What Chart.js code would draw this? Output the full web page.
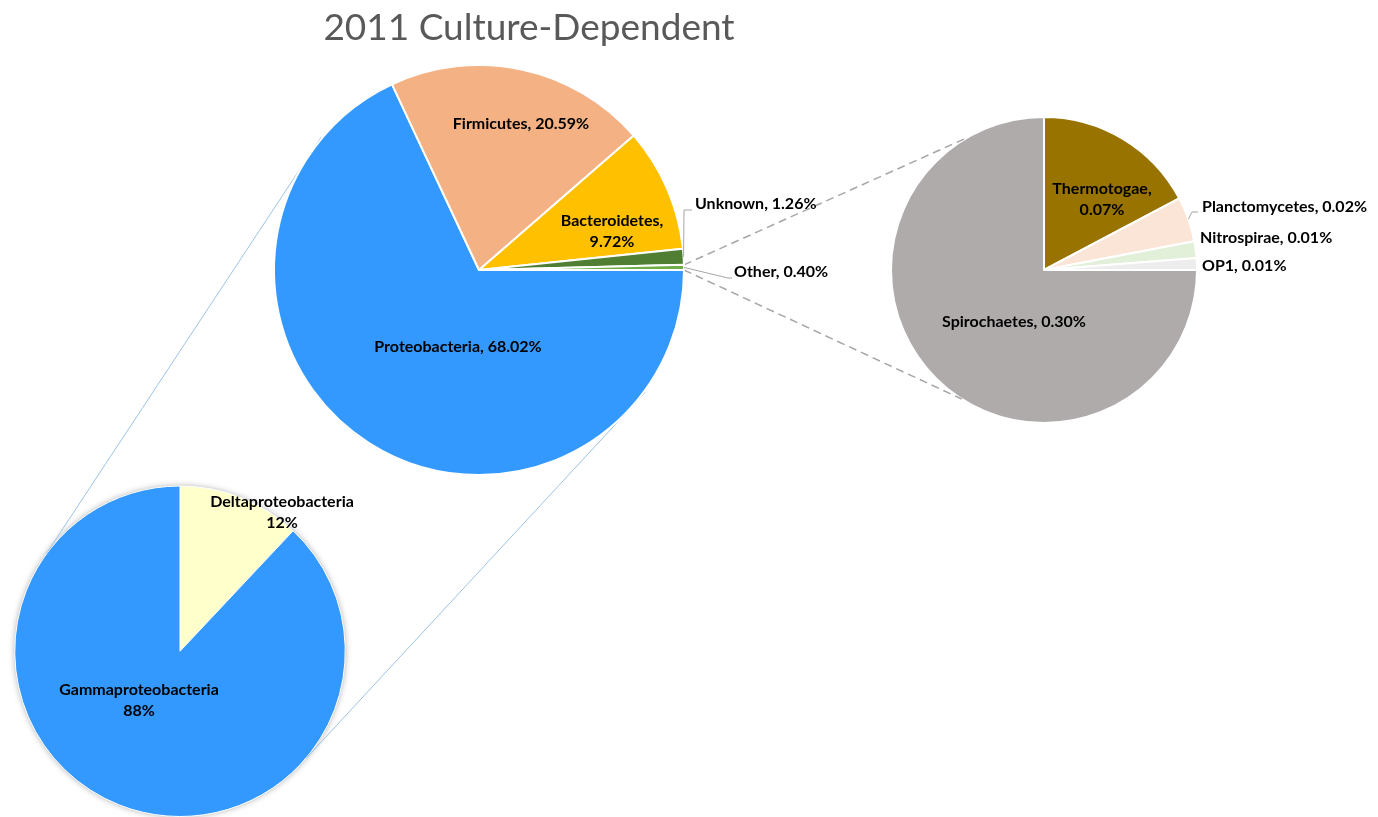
<!DOCTYPE html>
<html>
<head>
<meta charset="utf-8">
<script src="https://cdn.jsdelivr.net/npm/chart.js@4.4.1/dist/chart.umd.min.js"></script>
<style>
html, body { margin: 0; padding: 0; background: #fff; }
#wrap { position: relative; width: 1378px; height: 817px; overflow: hidden; }
#wrap canvas { position: absolute; left: 0; top: 0; }
</style>
</head>
<body>
<div id="wrap">
  <canvas id="protChart" width="1378" height="817"></canvas>
  <canvas id="otherChart" width="1378" height="817"></canvas>
  <canvas id="mainChart" width="1378" height="817"></canvas>
</div>
<script>
// main pie
var mainLabels = ['Proteobacteria', 'Firmicutes', 'Bacteroidetes', 'Unknown', 'Other'];
var mainValues = [68.02, 20.59, 9.72, 1.26, 0.40];
var mainText = ['Proteobacteria, 68.02%', 'Firmicutes, 20.59%', 'Bacteroidetes,\n9.72%', 'Unknown, 1.26%', 'Other, 0.40%'];
var mainColors = ['#3399FF', '#F4B183', '#FFC000', '#507E32', '#70AD47'];

// breakdown of "Other" (right pie)
var otherLabels = ['Spirochaetes', 'Thermotogae', 'Planctomycetes', 'Nitrospirae', 'OP1'];
var otherValues = [0.300, 0.069, 0.019, 0.007, 0.005];
var otherText = ['Spirochaetes, 0.30%', 'Thermotogae,\n0.07%', 'Planctomycetes, 0.02%', 'Nitrospirae, 0.01%', 'OP1, 0.01%'];
var otherColors = ['#AFABAB', '#997300', '#FBE5D6', '#E2F0D9', '#EDEDED'];

// breakdown of Proteobacteria (bottom pie)
var protLabels = ['Deltaproteobacteria', 'Gammaproteobacteria'];
var protValues = [12, 88];
var protText = ['Deltaproteobacteria\n12%', 'Gammaproteobacteria\n88%'];
var protColors = ['#FFFFCC', '#3399FF'];

var W = 1378, H = 817;
var labelFont = 'bold 16px Lato';

// padding so the pie sits at (cx, cy) with radius r
function padFor(cx, cy, r, bw) {
  var s = 2 * r + bw;
  return { left: cx - s / 2, top: cy - s / 2, right: W - (cx + s / 2), bottom: H - (cy + s / 2) };
}

// label placement relative to pie centre: [dx, dy, align, leader knee dx, knee dy, end dx]
var mainPlace = [[-21, 77, 'center'], [42, -146, 'center'], [133, -39, 'center'],
  [216, -66, 'left', 205, -60, 213], [255, 2, 'left', 249, 8, 253]];
var otherPlace = [[-30, 52, 'center'], [58, -71, 'center'], [158, -63, 'left', 148, -58, 154],
  [156, -32, 'left'], [158, -4, 'left']];
var protPlace = [[102, -139, 'center'], [-41, 49, 'center']];

function labelPlugin(texts, place) {
  return {
    id: 'sliceLabels',
    afterDatasetsDraw: function(chart) {
      var ctx = chart.ctx;
      var arcs = chart.getDatasetMeta(0).data;
      ctx.save();
      ctx.font = labelFont;
      ctx.fillStyle = '#000';
      ctx.textBaseline = 'middle';
      for (var i = 0; i < arcs.length; i++) {
        var a = arcs[i], p = place[i];
        var lx = a.x + p[0], ly = a.y + p[1];
        if (p.length > 3) {
          var mid = (a.startAngle + a.endAngle) / 2;
          ctx.strokeStyle = '#A6A6A6';
          ctx.lineWidth = 1;
          ctx.beginPath();
          ctx.moveTo(a.x + a.outerRadius * Math.cos(mid), a.y + a.outerRadius * Math.sin(mid));
          ctx.lineTo(a.x + p[3], a.y + p[4]);
          ctx.lineTo(a.x + p[5], a.y + p[4]);
          ctx.stroke();
        }
        ctx.textAlign = p[2];
        var lines = texts[i].split('\n');
        var y0 = ly - (lines.length - 1) * 10.5;
        for (var j = 0; j < lines.length; j++) {
          ctx.fillText(lines[j], lx, y0 + j * 21);
        }
      }
      ctx.restore();
    }
  };
}

var common = {
  responsive: false,
  animation: false,
  events: [],
  plugins: { legend: { display: false }, tooltip: { enabled: false } }
};

var protChart = new Chart(document.getElementById('protChart'), {
  type: 'pie',
  data: {
    labels: protLabels,
    datasets: [{ data: protValues, backgroundColor: protColors, borderColor: '#fff', borderWidth: 1 }]
  },
  options: Object.assign({}, common, { rotation: 0, layout: { padding: padFor(180, 652, 166, 1) } }),
  plugins: [{
    id: 'softEdge',
    beforeDatasetsDraw: function(chart) {
      var a = chart.getDatasetMeta(0).data[0];
      var ctx = chart.ctx;
      ctx.save();
      ctx.shadowColor = 'rgba(0,0,0,0.45)';
      ctx.shadowBlur = 7;
      ctx.fillStyle = '#3399FF';
      ctx.beginPath();
      ctx.arc(a.x, a.y, a.outerRadius - 1, 0, Math.PI * 2);
      ctx.fill();
      ctx.restore();
    }
  }, labelPlugin(protText, protPlace)]
});

var otherChart = new Chart(document.getElementById('otherChart'), {
  type: 'pie',
  data: {
    labels: otherLabels,
    datasets: [{ data: otherValues, backgroundColor: otherColors, borderColor: '#fff', borderWidth: 2 }]
  },
  options: Object.assign({}, common, { rotation: 90, layout: { padding: padFor(1044, 270, 153, 2) } }),
  plugins: [labelPlugin(otherText, otherPlace)]
});

// connector lines between the pies
var connectors = {
  id: 'connectors',
  beforeDatasetsDraw: function(chart) {
    var ctx = chart.ctx;
    var m = chart.getDatasetMeta(0).data;
    var big = m[0];
    var p = protChart.getDatasetMeta(0).data[0];
    var o = otherChart.getDatasetMeta(0).data[0];
    ctx.save();
    // outer tangents to the Proteobacteria pie, running a little past the big pie
    var dx = p.x - big.x, dy = p.y - big.y, D = Math.sqrt(dx * dx + dy * dy);
    var base = Math.atan2(dy, dx);
    var off = Math.acos((big.outerRadius - p.outerRadius) / D);
    ctx.strokeStyle = '#9DC3E6';
    ctx.lineWidth = 1;
    [base + off, base - off].forEach(function(t) {
      var x1 = big.x + big.outerRadius * Math.cos(t), y1 = big.y + big.outerRadius * Math.sin(t);
      var x2 = p.x + p.outerRadius * Math.cos(t), y2 = p.y + p.outerRadius * Math.sin(t);
      var len = Math.sqrt((x2 - x1) * (x2 - x1) + (y2 - y1) * (y2 - y1));
      var ux = (x2 - x1) / len, uy = (y2 - y1) / len;
      ctx.beginPath();
      ctx.moveTo(x1 - ux * 24, y1 - uy * 24);
      ctx.lineTo(x2 - ux * 8, y2 - uy * 8);
      ctx.stroke();
    });
    // dashed lines from the Other slice to the breakdown pie
    var s = m[4];
    ctx.strokeStyle = '#A6A6A6';
    ctx.lineWidth = 1.5;
    ctx.setLineDash([8, 5]);
    [[s.startAngle, 240], [s.endAngle, 122.5]].forEach(function(q) {
      var t = q[1] * Math.PI / 180;
      ctx.beginPath();
      ctx.moveTo(s.x + s.outerRadius * Math.cos(q[0]), s.y + s.outerRadius * Math.sin(q[0]));
      ctx.lineTo(o.x + o.outerRadius * Math.cos(t), o.y + o.outerRadius * Math.sin(t));
      ctx.stroke();
    });
    ctx.restore();
  },
  afterDraw: function(chart) {
    var ctx = chart.ctx;
    ctx.save();
    ctx.font = '37px Lato';
    ctx.fillStyle = '#595959';
    ctx.textAlign = 'center';
    ctx.textBaseline = 'middle';
    ctx.fillText('2011 Culture-Dependent', 529, 28);
    ctx.restore();
  }
};

var mainChart = new Chart(document.getElementById('mainChart'), {
  type: 'pie',
  data: {
    labels: mainLabels,
    datasets: [{ data: mainValues, backgroundColor: mainColors, borderColor: '#fff', borderWidth: 2 }]
  },
  options: Object.assign({}, common, { rotation: 90, layout: { padding: padFor(479, 270, 205, 2) } }),
  plugins: [connectors, labelPlugin(mainText, mainPlace)]
});
</script>
</body>
</html>
